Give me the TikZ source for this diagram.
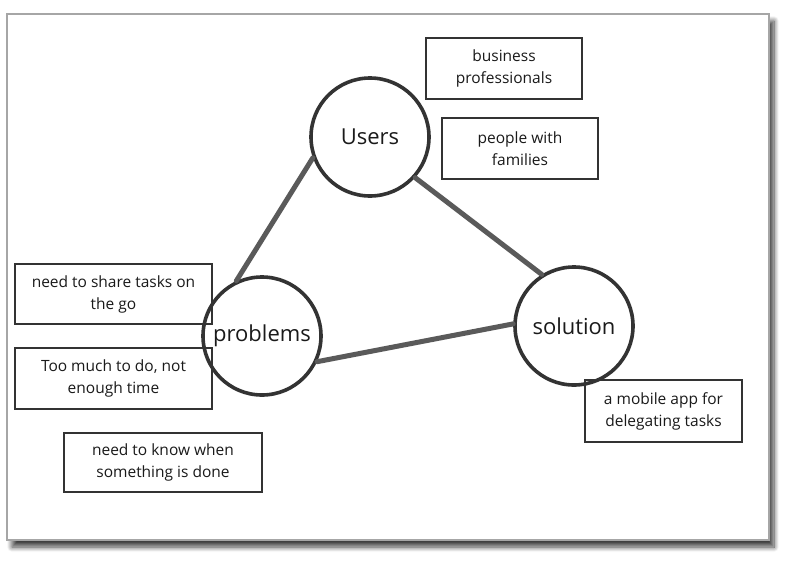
\documentclass[tikz,border=0pt]{standalone}
\usepackage{fontspec}
\setmainfont{Open Sans}
\usetikzlibrary{shadows.blur}
\definecolor{ink}{HTML}{333333}
\definecolor{txt}{HTML}{1A1A1A}
\definecolor{link}{HTML}{5A5A5A}
\begin{document}
\begin{tikzpicture}[x=1pt,y=-1pt,
  circ/.style={circle,draw=ink,line width=3.6pt,minimum size=118pt,inner sep=0pt,
    font=\fontsize{22}{24}\selectfont,text=txt},
  note/.style={rectangle,draw=ink,line width=2.8pt,fill=white,align=center,inner sep=0pt,
    font=\fontsize{15.5}{22}\selectfont,text=txt},
  conn/.style={draw=link,line width=5pt,line cap=round}]
\useasboundingbox (0,0) rectangle (800,560);
% frame
\node[draw=gray!70,line width=1.2pt,fill=white,minimum width=762pt,minimum height=526pt,inner sep=0pt,
  blur shadow={shadow xshift=5pt,shadow yshift=-7pt,shadow blur radius=5pt,shadow blur steps=10,shadow opacity=75}]
  (frame) at (388,277) {};
% notes
\node[note,minimum width=156pt,minimum height=61pt] (biz) at (504,68.5) {business\\professionals};
\node[note,minimum width=156pt,minimum height=61pt] (fam) at (520,148.5) {people with\\families};
\node[note,minimum width=197pt,minimum height=60pt] (share) at (113.5,294) {need to share tasks on\\the go};
\node[note,minimum width=197pt,minimum height=61pt] (much) at (113.5,378.5) {Too much to do, not\\enough time};
\node[note,minimum width=198pt,minimum height=59pt] (know) at (163,462.5) {need to know when\\something is done};
\node[note,minimum width=157pt,minimum height=62pt] (app) at (663.5,411) {a mobile app for\\delegating tasks};
% circles
\node[circ] (users) at (370,137) {Users};
\node[circ] (problems) at (262,336) {problems};
\node[circ] (solution) at (574,326) {solution};
% connectors
\draw[conn] (users.200) -- (problems.115);
\draw[conn] (users.318) -- (solution.122);
\draw[conn] (problems.335) -- (solution.178);
\end{tikzpicture}
\end{document}
